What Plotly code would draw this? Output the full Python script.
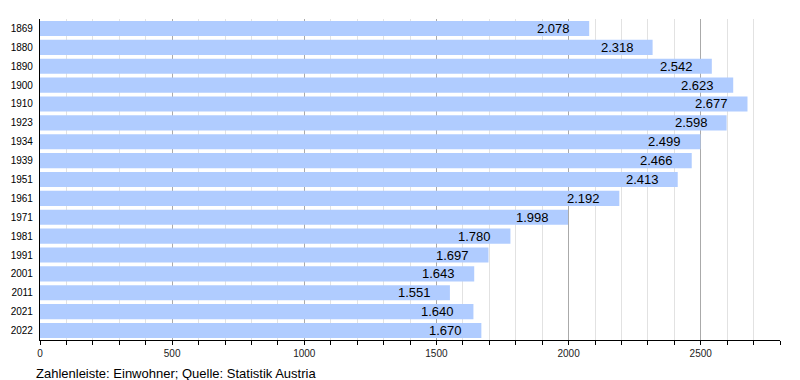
import plotly.graph_objects as go

years = ["1869", "1880", "1890", "1900", "1910", "1923", "1934", "1939", "1951",
         "1961", "1971", "1981", "1991", "2001", "2011", "2021", "2022"]
population = [2078, 2318, 2542, 2623, 2677, 2598, 2499, 2466, 2413,
              2192, 1998, 1780, 1697, 1643, 1551, 1640, 1670]
labels = [f"{v:,}".replace(",", ".") for v in population]
footer = "Zahlenleiste: Einwohner; Quelle: Statistik Austria"

font = "Liberation Sans, Arial, sans-serif"

fig = go.Figure(go.Bar(
    x=population, y=years, orientation="h",
    marker=dict(color="#b0ccff", line=dict(width=0)),
    width=0.8, hoverinfo="x+y",
))

# value labels: y given as category index so numeric-looking names are not misread
for i, (v, t) in enumerate(zip(population, labels)):
    fig.add_annotation(x=v, y=i, text=t, showarrow=False, xanchor="right",
                       xshift=-17, font=dict(family=font, size=13, color="#000"))

fig.add_annotation(x=0, y=0, xref="paper", yref="paper", text=footer,
                   showarrow=False, xanchor="left", yanchor="middle",
                   xshift=-6, yshift=-33,
                   font=dict(family=font, size=13, color="#000"))

# page body has an 8px margin; the figure is sized so the plot area lands at 40..780 x 19..340
fig.update_layout(
    width=792, height=372,
    margin=dict(l=32, r=20, t=11, b=40, autoexpand=False),
    paper_bgcolor="white", plot_bgcolor="white",
    showlegend=False, bargap=0.2,
    font=dict(family=font, size=10, color="#000"),
    xaxis=dict(
        range=[0, 2800], dtick=500, tick0=0,
        showgrid=True, gridcolor="#aaaaaa", gridwidth=1,
        minor=dict(dtick=100, showgrid=True, gridcolor="#e2e2e2",
                   ticks="outside", ticklen=4, tickcolor="#000"),
        ticks="outside", ticklen=4, tickcolor="#000",
        showline=True, linecolor="#000", linewidth=1.2,
        zeroline=False, tickfont=dict(size=10, color="#222"),
        fixedrange=True, automargin=False,
    ),
    yaxis=dict(
        type="category", range=[len(years) - 0.5, -0.5],
        showline=True, linecolor="#000", linewidth=1.2,
        ticks="", showgrid=False, tickfont=dict(size=10, color="#000"),
        ticklabelstandoff=4, fixedrange=True, automargin=False,
    ),
)

fig.write_html("out.html")
